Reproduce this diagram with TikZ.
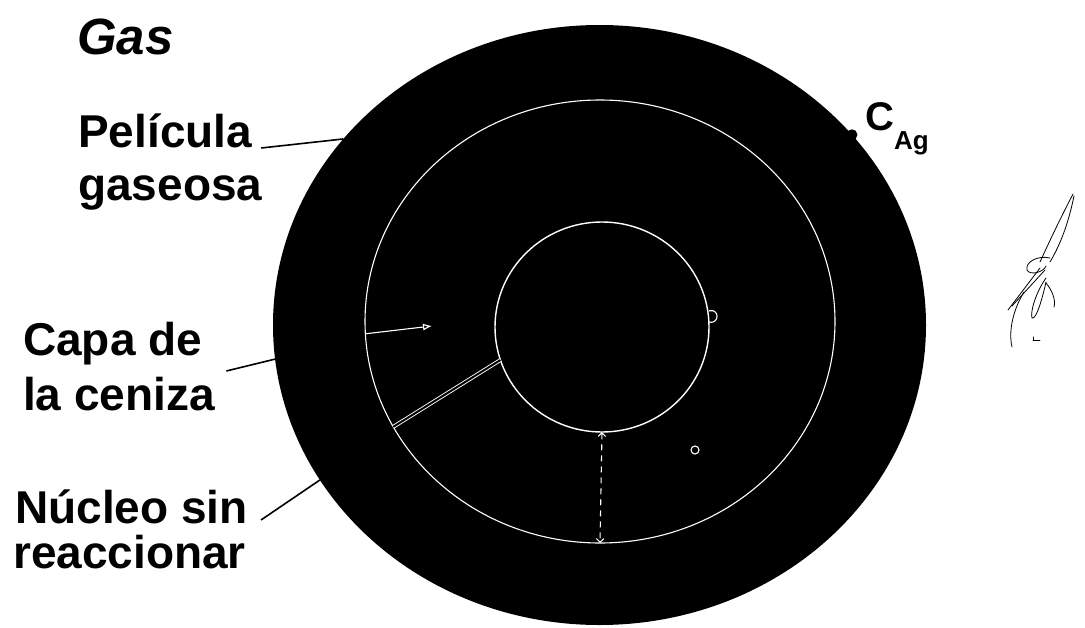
\documentclass[tikz,border=0pt]{standalone}
\usepackage{fontspec}
\newfontfamily\arial{Liberation Sans}
\usepackage{tikz}
\usetikzlibrary{arrows.meta,shapes.geometric}

\begin{document}
\begin{tikzpicture}[
  x=1pt, y=-1pt,
  lbl/.style={font=\arial\bfseries\fontsize{46}{53}\selectfont,anchor=base west,inner sep=0pt},
  ring/.style={ellipse,inner sep=0pt,outer sep=0pt},
  leader/.style={draw=black,line width=1.6pt},
  trace/.style={draw=white,line width=1.1pt},
  sig/.style={draw=black,line width=0.8pt,line cap=round},
]
  \useasboundingbox (0,0) rectangle (1085,627);
  % particle
  \node[ring,fill=black,minimum width=653pt,minimum height=600pt] (film) at (599.5,325) {};
  \node[ring,trace,minimum width=470pt,minimum height=443pt] (ash) at (600,321.5) {};
  \node[ring,trace,line width=1.4pt,minimum width=214pt,minimum height=210pt] (core) at (602,327) {};
  \draw[trace,-{Latex[length=9pt,width=7pt,open]}] (ash.183.8) -- (432,326);
  \draw[draw=white,double=black,double distance=2pt,line width=0.9pt] (core.198.9) -- (ash.207.5);
  \draw[trace,dashed,dash pattern=on 6pt off 5pt,{Straight Barb[open]}-{Straight Barb[open]}] (core.south) -- (ash.south);
  \draw[trace] (695,450) circle (4);
  \draw[trace] ([yshift=5pt]core.east) arc[start angle=110,end angle=-110,radius=6];
  % labels
  \node[lbl] (gas) at (77,54) {\itshape\fontsize{51}{53}\selectfont Gas};
  \node[lbl] (pel1) at (78,147) {Película};
  \node[lbl] (pel2) at (78,200) {gaseosa};
  \node[lbl] (capa1) at (23,355) {Capa de};
  \node[lbl] (capa2) at (23,410) {la ceniza};
  \node[lbl] (nuc1) at (15,523) {Núcleo sin};
  \node[lbl] (nuc2) at (13,568) {reaccionar};
  \draw[leader] ([xshift=9pt,yshift=-1pt]pel1.base east) -- (film.144.8);
  \draw[leader] ([xshift=24pt,yshift=-16pt]capa1.base east) -- (film.186.3);
  \draw[leader] ([xshift=13pt,yshift=3pt]nuc1.base east) -- (film.209.3);
  \fill[black] (film.37.7) circle (5.5);
  \node[lbl] (cag) at (865,130)
    {\fontsize{40}{48}\selectfont C\raisebox{-19pt}{\fontsize{26}{30}\selectfont Ag}};
  % signature
  \draw[sig] (1073,194) .. controls (1062,215) and (1050,240) .. (1040,262);
  \draw[sig] (1074,196) .. controls (1068,225) and (1060,245) .. (1050,262);
  \draw[sig] (1050,258) .. controls (1038,255) and (1025,262) .. (1027,270)
     .. controls (1030,276) and (1044,272) .. (1046,266);
  \draw[sig] (1040,268) -- (1008,310);
  \draw[sig] (1045,270) -- (1012,306);
  \draw[sig] (1046,278) .. controls (1036,292) and (1030,312) .. (1032,318)
     .. controls (1036,320) and (1042,300) .. (1046,282);
  \draw[sig] (1046,283) .. controls (1052,290) and (1056,300) .. (1054,307);
  \draw[sig] (1024,292) .. controls (1014,308) and (1008,330) .. (1012,347);
  \draw[sig] (1033,340) -- (1040,340) (1033,340) -- (1033,337);
\end{tikzpicture}
\end{document}
